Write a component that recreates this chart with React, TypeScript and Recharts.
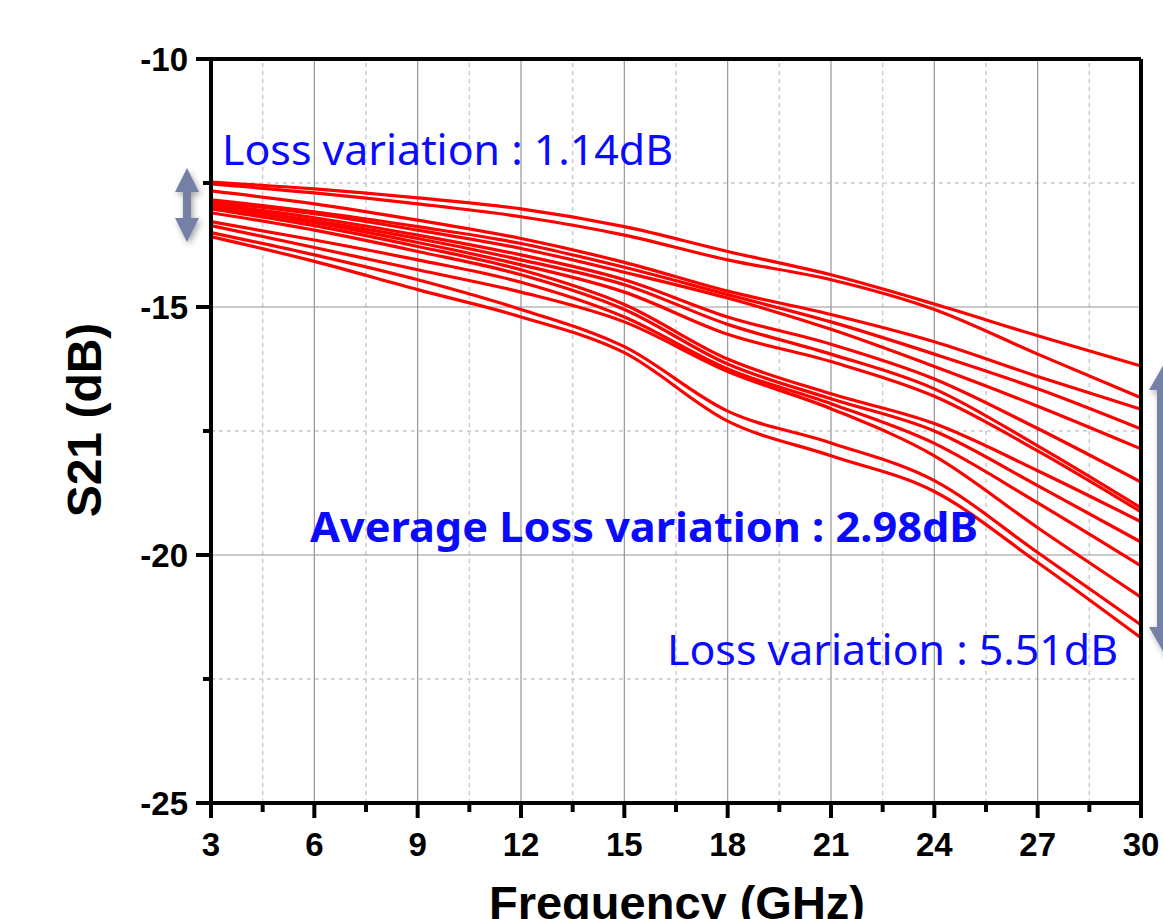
import { LineChart, Line, XAxis, YAxis, ReferenceLine } from 'recharts';

const freqs = [3, 6, 9, 12, 15, 18, 21, 24, 27, 30];

// S21 (dB) of each sample at the frequencies above
const s01 = [-12.48, -12.62, -12.8, -13.02, -13.38, -13.88, -14.35, -14.94, -15.58, -16.19];
const s02 = [-12.52, -12.7, -12.92, -13.18, -13.55, -14.05, -14.45, -15.05, -15.95, -16.83];
const s03 = [-12.66, -12.92, -13.25, -13.62, -14.1, -14.68, -15.15, -15.7, -16.4, -17.06];
const s04 = [-12.84, -13.08, -13.38, -13.72, -14.2, -14.75, -15.3, -15.95, -16.65, -17.46];
const s05 = [-12.88, -13.12, -13.45, -13.82, -14.3, -14.82, -15.45, -16.2, -17.0, -17.86];
const s06 = [-12.92, -13.2, -13.55, -13.95, -14.45, -15.2, -15.75, -16.45, -17.45, -18.53];
const s07 = [-12.96, -13.26, -13.62, -14.05, -14.55, -15.35, -15.95, -16.65, -17.8, -19.05];
const s08 = [-12.98, -13.3, -13.7, -14.15, -14.7, -15.55, -16.1, -16.8, -17.9, -19.13];
const s09 = [-13.02, -13.36, -13.78, -14.25, -14.95, -16.05, -16.75, -17.35, -18.3, -19.33];
const s10 = [-13.1, -13.45, -13.88, -14.35, -15.05, -16.15, -16.85, -17.5, -18.6, -19.74];
const s11 = [-13.28, -13.65, -14.05, -14.5, -15.2, -16.25, -16.95, -17.75, -18.95, -20.22];
const s12 = [-13.36, -13.8, -14.25, -14.7, -15.3, -16.3, -17.05, -18.0, -19.45, -20.85];
const s13 = [-13.5, -13.95, -14.45, -15.05, -15.8, -17.1, -17.74, -18.5, -19.95, -21.41];
const s14 = [-13.58, -14.08, -14.65, -15.2, -15.92, -17.3, -18.0, -18.72, -20.15, -21.67];

const series = [s01, s02, s03, s04, s05, s06, s07, s08, s09, s10, s11, s12, s13, s14];

const xMajor = [3, 6, 9, 12, 15, 18, 21, 24, 27, 30];
const xMinor = [4.5, 7.5, 10.5, 13.5, 16.5, 19.5, 22.5, 25.5, 28.5];
const yMajor = [-25, -20, -15, -10];
const yMinor = [-22.5, -17.5, -12.5];

const data = freqs.map((f, i) => {
  const row: Record<string, number> = { f };
  series.forEach((s, j) => {
    row[`s${j}`] = s[i];
  });
  return row;
});

const tickFont = { fontFamily: 'Liberation Sans, Arial, sans-serif', fontWeight: 700, fontSize: 33 };
const blue = '#0a0aff';
const arrowFill = '#7480a6';

function XTick(props: any) {
  const { x, y, payload } = props;
  const major = xMajor.includes(payload.value);
  return (
    <g>
      <line x1={x} x2={x} y1={y} y2={y + (major ? 15 : 9)} stroke="#000" strokeWidth={4} />
      {major && (
        <text x={x} y={y + 53} textAnchor="middle" fill="#000" {...tickFont}>
          {payload.value}
        </text>
      )}
    </g>
  );
}

function YTick(props: any) {
  const { x, y, payload } = props;
  const major = yMajor.includes(payload.value);
  return (
    <g>
      <line x1={x} x2={x - (major ? 15 : 8)} y1={y} y2={y} stroke="#000" strokeWidth={4} />
      {major && (
        <text x={x - 23} y={y + 12} textAnchor="end" fill="#000" {...tickFont}>
          {payload.value}
        </text>
      )}
    </g>
  );
}

function DoubleArrow({ cx, top, bottom, head, shaft, headLen }: any) {
  const pts = [
    [cx, top],
    [cx + head, top + headLen],
    [cx + shaft, top + headLen],
    [cx + shaft, bottom - headLen],
    [cx + head, bottom - headLen],
    [cx, bottom],
    [cx - head, bottom - headLen],
    [cx - shaft, bottom - headLen],
    [cx - shaft, top + headLen],
    [cx - head, top + headLen],
  ]
    .map((p) => p.join(','))
    .join(' ');
  return <polygon points={pts} fill={arrowFill} filter="url(#shadow)" />;
}

export default function App() {
  return (
    <div style={{ position: 'absolute', left: 0, top: 0, width: 1163, height: 919, overflow: 'hidden', background: '#fff' }}>
      <LineChart width={1163} height={919} data={data} margin={{ top: 59, right: 22, left: 131, bottom: 56 }}>
        <XAxis
          dataKey="f"
          type="number"
          domain={[3, 30]}
          ticks={[...xMajor, ...xMinor].sort((a, b) => a - b)}
          interval={0}
          height={60}
          tickSize={0}
          tickMargin={0}
          tick={<XTick />}
          axisLine={{ stroke: '#000', strokeWidth: 4 }}
          tickLine={false}
        />
        <YAxis
          type="number"
          domain={[-25, -10]}
          ticks={[...yMajor, ...yMinor].sort((a, b) => a - b)}
          interval={0}
          width={80}
          tickSize={0}
          tickMargin={0}
          tick={<YTick />}
          axisLine={{ stroke: '#000', strokeWidth: 4 }}
          tickLine={false}
        />
        {xMinor.map((v) => (
          <ReferenceLine key={`xm${v}`} x={v} stroke="#cccccc" strokeWidth={1.5} strokeDasharray="4 4" />
        ))}
        {yMinor.map((v) => (
          <ReferenceLine key={`ym${v}`} y={v} stroke="#cccccc" strokeWidth={1.5} strokeDasharray="4 4" />
        ))}
        {xMajor.slice(1, -1).map((v) => (
          <ReferenceLine key={`xM${v}`} x={v} stroke="#959595" strokeWidth={1.2} />
        ))}
        {yMajor.slice(1, -1).map((v) => (
          <ReferenceLine key={`yM${v}`} y={v} stroke="#959595" strokeWidth={1.2} />
        ))}
        {series.map((_, j) => (
          <Line
            key={j}
            dataKey={`s${j}`}
            type="monotone"
            stroke="#ff0000"
            strokeWidth={3.2}
            dot={false}
            activeDot={false}
            isAnimationActive={false}
          />
        ))}
        <ReferenceLine y={-10} stroke="#000" strokeWidth={4} />
        <ReferenceLine x={30} stroke="#000" strokeWidth={4} />
      </LineChart>

      <svg width={1163} height={919} style={{ position: 'absolute', left: 0, top: 0, pointerEvents: 'none' }}>
        <defs>
          <filter id="shadow" x="-50%" y="-20%" width="200%" height="140%">
            <feGaussianBlur in="SourceAlpha" stdDeviation="3" />
            <feOffset dx="2" dy="3" result="b" />
            <feComponentTransfer>
              <feFuncA type="linear" slope="0.35" />
            </feComponentTransfer>
            <feMerge>
              <feMergeNode />
              <feMergeNode in="SourceGraphic" />
            </feMerge>
          </filter>
        </defs>
        <DoubleArrow cx={187} top={168} bottom={242} head={12} shaft={4} headLen={24} />
        <DoubleArrow cx={1168} top={357} bottom={660} head={19} shaft={11} headLen={33} />

        <text x={222} y={165} fill={blue} fontFamily="Noto Sans, sans-serif" fontSize={42} textLength={451} lengthAdjust="spacingAndGlyphs">
          Loss variation : 1.14dB
        </text>
        <text x={310} y={542} fill={blue} fontFamily="Noto Sans, sans-serif" fontWeight={700} fontSize={42} textLength={668} lengthAdjust="spacingAndGlyphs">
          Average Loss variation : 2.98dB
        </text>
        <text x={667} y={665} fill={blue} fontFamily="Noto Sans, sans-serif" fontSize={42} textLength={451} lengthAdjust="spacingAndGlyphs">
          Loss variation : 5.51dB
        </text>

        <text
          transform="translate(101 420) rotate(-90)"
          textAnchor="middle"
          fill="#000"
          fontFamily="Liberation Sans, Arial, sans-serif"
          fontWeight={700}
          fontSize={48}
        >
          S21 (dB)
        </text>
        <text x={677} y={919} textAnchor="middle" fill="#000" fontFamily="Liberation Sans, Arial, sans-serif" fontWeight={700} fontSize={47}>
          Frequency (GHz)
        </text>
      </svg>
    </div>
  );
}
